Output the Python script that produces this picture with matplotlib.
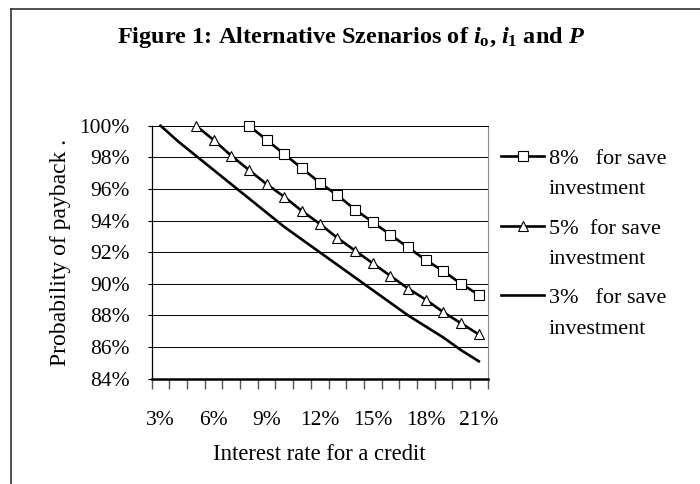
import matplotlib
matplotlib.use("Agg")
import matplotlib.pyplot as plt
from matplotlib.lines import Line2D
from matplotlib.ticker import FixedLocator, FuncFormatter

plt.rcParams["font.family"] = ["Liberation Serif", "DejaVu Serif"]
plt.rcParams["mathtext.fontset"] = "custom"
plt.rcParams["mathtext.rm"] = "Liberation Serif:bold"
plt.rcParams["mathtext.bf"] = "Liberation Serif:bold"
plt.rcParams["mathtext.it"] = "Liberation Serif:italic:bold"

# --- data ------------------------------------------------------------------
rates = ["3%", "4%", "5%", "6%", "7%", "8%", "9%", "10%", "11%", "12%",
         "13%", "14%", "15%", "16%", "17%", "18%", "19%", "20%", "21%"]
shown_labels = ["3%", "6%", "9%", "12%", "15%", "18%", "21%"]

# probability of payback (%), series start at their own save-investment rate
p_8 = [100.0, 99.1, 98.2, 97.3, 96.4, 95.6, 94.7, 93.9, 93.1, 92.3,
       91.5, 90.8, 90.0, 89.3]                       # 8% .. 21%
p_5 = [100.0, 99.1, 98.1, 97.2, 96.3, 95.5, 94.6, 93.8, 92.9, 92.1,
       91.3, 90.5, 89.7, 89.0, 88.2, 87.5, 86.8]     # 5% .. 21%
p_3 = [100.0, 99.0, 98.1, 97.2, 96.3, 95.4, 94.5, 93.6, 92.8, 92.0,
       91.2, 90.4, 89.6, 88.8, 88.0, 87.3, 86.6, 85.8, 85.1]  # 3% .. 21%

series = [
    ("8%   for save\ninvestment", p_8, "s"),
    ("5%  for save\ninvestment", p_5, "^"),
    ("3%   for save\ninvestment", p_3, None),
]

W, H = 700, 484


def px(x, y):
    """pixel position (from top-left) -> figure fraction"""
    return x / W, 1 - y / H


fig = plt.figure(figsize=(W / 100, H / 100), dpi=100)
l, b = px(151.7, 378.7)
r, t = px(487.7, 125.7)
ax = fig.add_axes([l, b, r - l, t - b])

n = len(rates)
for label, vals, marker in series:
    xs = list(range(n - len(vals), n))
    ax.plot(xs, vals, color="black", lw=1.9, marker=marker, ms=7.5,
            mfc="white", mec="black", mew=0.8, zorder=3, clip_on=False)

ax.set_xlim(-0.5, n - 0.5)
ax.set_ylim(84, 100)

# category axis: ticks between categories, labels every third category
ax.xaxis.set_major_locator(FixedLocator([i - 0.5 for i in range(n + 1)]))
ax.xaxis.set_major_formatter(FuncFormatter(lambda v, p: ""))
ax.xaxis.set_minor_locator(FixedLocator([rates.index(s) for s in shown_labels]))
ax.xaxis.set_minor_formatter(FuncFormatter(lambda v, p: rates[int(round(v))]))
ax.tick_params(axis="x", which="major", direction="out", length=7, width=1.0,
               color="#555555")
ax.tick_params(axis="x", which="minor", length=0, pad=23, labelsize=15.5)

ax.set_yticks(range(84, 101, 2))
ax.yaxis.set_major_formatter(FuncFormatter(lambda v, p: f"{v:.0f}%"))
ax.tick_params(axis="y", direction="out", length=3, width=0.8, pad=13,
               labelsize=15.5)

ax.grid(axis="y", color="black", lw=0.7)
ax.set_axisbelow(True)
ax.spines["left"].set_linewidth(0.9)
ax.spines["top"].set_linewidth(0.7)
ax.spines["bottom"].set_linewidth(1.8)
ax.spines["right"].set_color("#888888")
ax.spines["right"].set_linewidth(0.8)

ax.set_xlabel("Interest rate for a credit", fontsize=16.3)
ax.xaxis.set_label_coords(0.5, (378.7 - 444) / 253.0)
ax.set_ylabel("Probability of payback .", fontsize=17)
ax.yaxis.set_label_coords((71 - 151.7) / 336.0, 0.5)

fig.text(*px(351.5, 43.5), r"Figure 1: Alternative Szenarios of $i_{\mathrm{o}}$, $i_1$ and $P$",
         ha="center", va="baseline", fontsize=17.5, fontweight="bold")

# legend drawn by hand so the key lines up with the first text line
for k, (label, vals, marker) in enumerate(series):
    y = 156 + 69.7 * k
    x0, y0 = px(501, y)
    x1, _ = px(544, y)
    fig.add_artist(Line2D([x0, x1], [y0, y0], color="black", lw=1.9))
    if marker:
        fig.add_artist(Line2D([(x0 + x1) / 2], [y0], marker=marker, ms=6.5,
                              mfc="white", mec="black", mew=0.8, lw=0))
    fig.text(*px(549, y - 6), label, ha="left", va="top", fontsize=16,
             linespacing=1.8)

# outer frame (extends past the right and bottom edges)
fig.add_artist(Line2D([px(11, 0)[0], px(11, 0)[0]], [px(0, 9)[1], 0],
                      color="#333333", lw=1.2))
fig.add_artist(Line2D([px(11, 0)[0], 1], [px(0, 9)[1], px(0, 9)[1]],
                      color="#333333", lw=1.2))

fig.savefig("out.png", dpi=100)
